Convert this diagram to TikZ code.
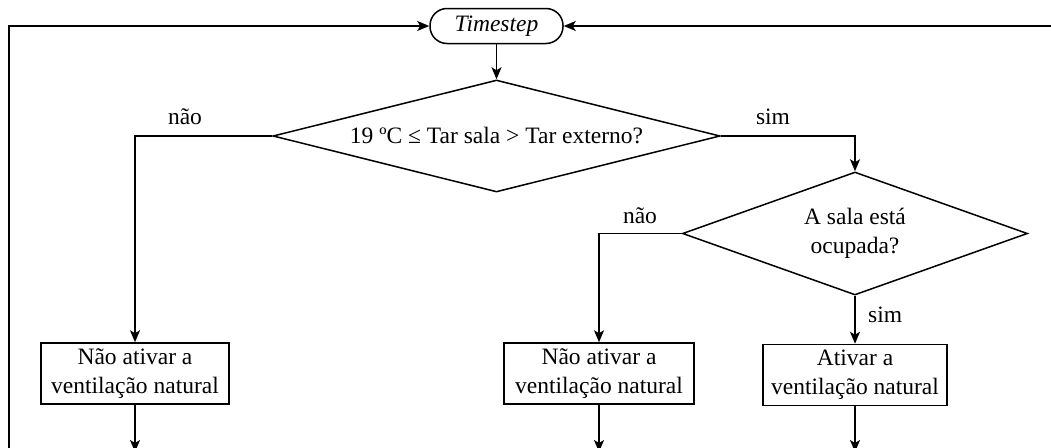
\documentclass[tikz,border=0pt]{standalone}
\usepackage{fontspec}
\setmainfont{Liberation Serif}
\usetikzlibrary{arrows.meta,shapes,positioning}
\tikzstyle{edge}=[
	-,
	draw=black,
	line width=1.5pt
]
\tikzstyle{arr}=[
	edge,
	-{Stealth[length=12pt,width=10pt,inset=3pt]}
]
\tikzstyle{term}=[
	draw=black,
	line width=1.5pt,
	rounded corners=17pt,
	minimum width=133pt,
	minimum height=35pt,
	inner sep=0pt
]
\tikzstyle{decision}=[
	diamond,
	draw=black,
	line width=1.5pt,
	inner sep=0pt,
	align=center
]
\tikzstyle{action}=[
	rectangle,
	draw=black,
	line width=1.5pt,
	minimum height=61pt,
	inner sep=0pt,
	align=center
]
\tikzstyle{lbl}=[
	inner sep=0pt
]
\begin{document}
\begin{tikzpicture}[x=1pt, y=-1pt, every node/.style={font=\fontsize{23.5}{29}\selectfont}]
\useasboundingbox (0,0) rectangle (1051,447);

\node[term] (ts) at (496.5,26) {\itshape Timestep};
\node[decision, aspect=4, minimum width=447pt, minimum height=112pt, below=35pt of ts] (d1) {19 ºC ≤ Tar sala > Tar externo?};
\node[decision, aspect=2.8, minimum width=345pt, minimum height=123pt] (d2) at (855,233.5) {A sala está\\ocupada?};

\node[action, minimum width=188pt] (b1) at (135,373.5) {Não ativar a\\ventilação natural};
\node[action, minimum width=190pt] (b2) at (599,373.5) {Não ativar a\\ventilação natural};
\node[action, minimum width=184pt, below=48pt of d2] (b3) {Ativar a\\ventilação natural};

\node[lbl, anchor=base] (n1) at (185,124) {não};
\node[lbl, anchor=base] (s1) at (773,124) {sim};
\node[lbl, anchor=base] (n2) at (640,223) {não};
\node[lbl, anchor=base west] (s2) at (868,322) {sim};

\coordinate (e1) at (b1 |- 0,452);
\coordinate (e2) at (b2 |- 0,452);
\coordinate (e3) at (b3 |- 0,452);
\coordinate (lb) at (9,452);
\coordinate (rb) at (1055,26);

\draw[arr] (ts) -- (d1);
\draw[arr] (d1.west) -| (b1.north);
\draw[arr] (d1.east) -| (d2.north);
\draw[arr] (d2.west) -| (b2.north);
\draw[arr] (d2.south) -- (b3.north);

\draw[arr] (b1) -- (e1);
\draw[arr] (b2) -- (e2);
\draw[arr] (b3) -- (e3);

\draw[arr] (lb) |- (ts.west);
\draw[arr] (rb) -- (ts.east);
\end{tikzpicture}
\end{document}
